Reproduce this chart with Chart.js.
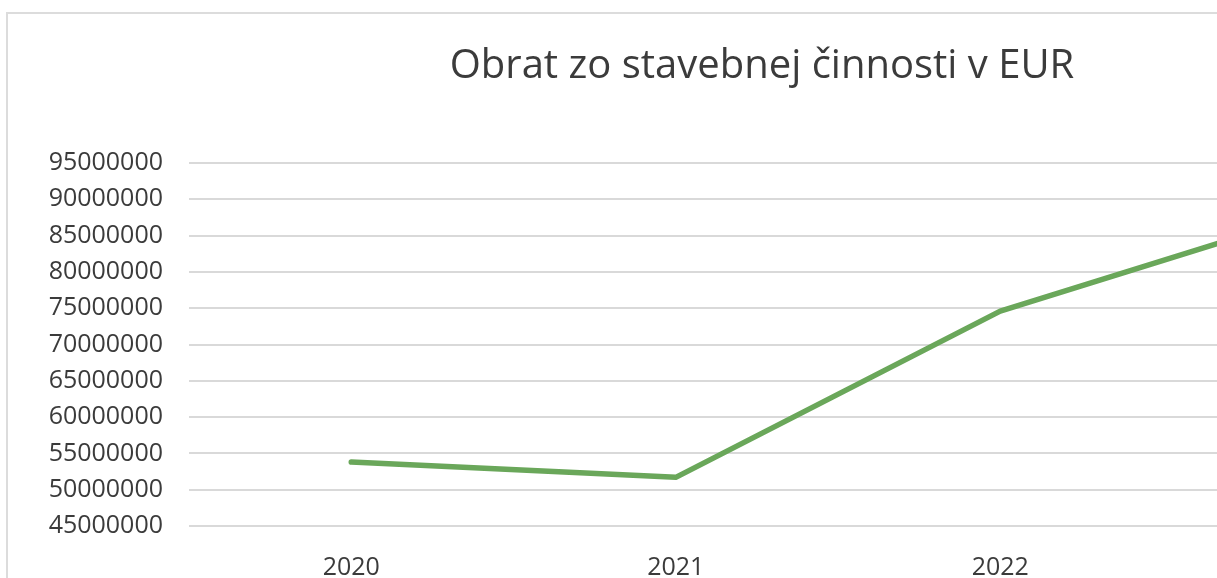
<!DOCTYPE html>
<html>
<head>
<meta charset="utf-8">
<script src="https://cdn.jsdelivr.net/npm/chart.js@4/dist/chart.umd.min.js"></script>
<style>
  html, body { margin: 0; padding: 0; background: #fff; overflow: hidden; width: 1217px; height: 578px; }
  #frame { position: absolute; left: 6px; top: 12px; border: 2px solid #dcdcdc; width: 1530px; height: 600px; }
  canvas { display: block; }
</style>
</head>
<body>
<div id="frame"><canvas id="turnoverChart" width="1530" height="590"></canvas></div>
<script>
const years = ['2020', '2021', '2022', '2023'];
const turnoverEur = [53800000, 51700000, 74600000, 88500000];
const yTicks = [45000000, 50000000, 55000000, 60000000, 65000000, 70000000, 75000000, 80000000, 85000000, 90000000, 95000000];

const textColor = '#3b3b3b';
const gridColor = '#d9d9d9';
const fontFamily = '"Open Sans", sans-serif';

const ctx = document.getElementById('turnoverChart').getContext('2d');
new Chart(ctx, {
    type: 'line',
    data: {
        labels: years,
        datasets: [{
            label: 'Obrat',
            data: turnoverEur,
            borderColor: '#6aa75a',
            borderWidth: 5.5,
            pointRadius: 0,
            tension: 0,
            fill: false,
            borderCapStyle: 'round',
            borderJoinStyle: 'round'
        }]
    },
    options: {
        responsive: false,
        animation: false,
        layout: { padding: { left: 0, right: 22, top: 0, bottom: 21 } },
        plugins: {
            legend: { display: false },
            tooltip: { enabled: false },
            title: {
                display: true,
                text: 'Obrat zo stavebnej činnosti v EUR',
                color: textColor,
                font: { family: fontFamily, size: 40, weight: 'normal', lineHeight: 1.2 },
                padding: { top: 29, bottom: 72 }
            }
        },
        scales: {
            x: {
                offset: true,
                afterFit: scale => { scale.height = 57; },
                grid: { display: false, drawTicks: false },
                border: { display: false },
                ticks: {
                    color: textColor,
                    font: { family: fontFamily, size: 25 },
                    padding: 27,
                    maxRotation: 0,
                    autoSkip: false
                }
            },
            y: {
                min: 45000000,
                max: 95000000,
                afterFit: scale => { scale.width = 181; },
                afterBuildTicks: scale => { scale.ticks = yTicks.map(v => ({ value: v })); },
                grid: { color: gridColor, lineWidth: 2, drawTicks: false },
                border: { display: false },
                ticks: {
                    color: textColor,
                    font: { family: fontFamily, size: 25 },
                    padding: 26,
                    autoSkip: false,
                    callback: v => String(v)
                }
            },
            yRight: {
                type: 'linear',
                position: 'right',
                afterFit: scale => { scale.width = 29; },
                grid: { display: false },
                border: { display: false },
                ticks: { display: false }
            }
        }
    }
});
</script>
</body>
</html>
